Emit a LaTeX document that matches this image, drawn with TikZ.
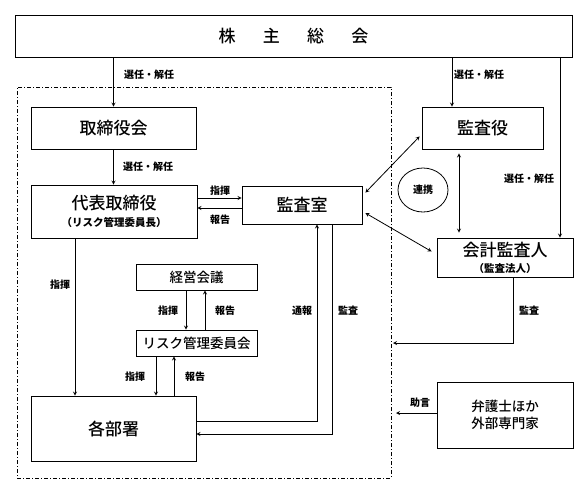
\documentclass[tikz,border=0pt]{standalone}
\usepackage{fontspec}
\setmainfont{Noto Sans CJK JP}
\newfontfamily\medfont{Noto Sans CJK JP Medium}
\usetikzlibrary{shapes.geometric}
\begin{document}
\begin{tikzpicture}[x=1pt,y=-1pt]
\tikzstyle{bigbox} = [draw, line width=0.8pt, inner sep=0pt, align=center, font=\medfont\fontsize{17}{20}\selectfont]
\tikzstyle{midbox} = [draw, line width=0.8pt, inner sep=0pt, align=center, font=\medfont\fontsize{13.5}{17}\selectfont]
\tikzstyle{lbl} = [inner sep=0pt, font=\fontsize{10}{12}\selectfont\bfseries]
\tikzstyle{conn} = [line width=0.8pt]
\useasboundingbox (0,0) rectangle (588,488);
\node[draw, line width=0.8pt, dash pattern=on 4pt off 2pt on 1pt off 2pt, minimum width=374, minimum height=391] (frame) at (204,282.5) {};
\node[bigbox, minimum width=557, minimum height=42] (sokai) at (293.5,36) {株\hspace{1.6em}主\hspace{1.6em}総\hspace{1.6em}会};
\node[bigbox, minimum width=165, minimum height=42] (torishimari) at (113.5,128) {取締役会};
\node[bigbox, minimum width=166, minimum height=53] (daihyo) at (114,211.5) {代表取締役\\[-3pt]{\normalfont\bfseries\fontsize{10.5}{12}\selectfont （リスク管理委員長）}};
\node[bigbox, minimum width=120, minimum height=38] (kansashitsu) at (302,205) {監査室};
\node[midbox, minimum width=121, minimum height=26] (keiei) at (196.5,277) {経営会議};
\node[midbox, minimum width=121, minimum height=26] (risk) at (196.5,343) {リスク管理委員会};
\node[bigbox, minimum width=165, minimum height=65] (kakubusho) at (113.5,428.5) {各部署};
\node[bigbox, minimum width=121, minimum height=42] (kansayaku) at (482.5,128) {監査役};
\node[bigbox, minimum width=136, minimum height=39] (kaikei) at (505,257.5) {会計監査人\\[-4pt]{\normalfont\bfseries\fontsize{10.5}{12}\selectfont （監査法人）}};
\node[midbox, minimum width=136, minimum height=66] (bengoshi) at (505,415) {弁護士ほか\\外部専門家};
\node[draw, ellipse, line width=0.8pt, minimum width=50, minimum height=44, inner sep=0pt, font=\fontsize{10}{12}\selectfont\bfseries] (renkei) at (423,190) {連携};
\coordinate (v75) at (75,0);
\coordinate (v156) at (156,0);
\coordinate (v174) at (174,0);
\coordinate (v186) at (186,0);
\coordinate (v205) at (205,0);
\coordinate (v317) at (317,0);
\coordinate (v332) at (332,0);
\coordinate (v452) at (452,0);
\coordinate (v459) at (459,0);
\coordinate (v513) at (513,0);
\coordinate (v560) at (560,0);
\coordinate (h198) at (0,198);
\coordinate (h208) at (0,208);
\coordinate (h421) at (0,421);
\coordinate (h434) at (0,434);
\coordinate (audit) at (393,343);
\coordinate (advice) at (396,413);
\draw[conn, -stealth] (sokai.south -| torishimari.north) -- (torishimari.north);
\node[lbl] (l1) at (149,75) {選任・解任};
\draw[conn, -stealth] (sokai.south -| v452) -- (kansayaku.north -| v452);
\node[lbl] (l2) at (479,75) {選任・解任};
\draw[conn, -stealth] (sokai.south -| v560) -- (kaikei.north -| v560);
\node[lbl] (l3) at (529,179) {選任・解任};
\draw[conn, -stealth] (torishimari.south) -- (torishimari.south |- daihyo.north);
\node[lbl] (l4) at (148,167) {選任・解任};
\draw[conn, -stealth] (daihyo.east |- h198) -- (kansashitsu.west |- h198);
\draw[conn, -stealth] (kansashitsu.west |- h208) -- (daihyo.east |- h208);
\node[lbl] (l5) at (220,191) {指揮};
\node[lbl] (l6) at (220,220) {報告};
\draw[conn, -stealth] (daihyo.south -| v75) -- (kakubusho.north -| v75);
\node[lbl] (l7) at (60,285) {指揮};
\draw[conn, -stealth] (keiei.south -| v186) -- (risk.north -| v186);
\draw[conn, -stealth] (risk.north -| v205) -- (keiei.south -| v205);
\node[lbl] (l8) at (168,311) {指揮};
\node[lbl] (l9) at (225,311) {報告};
\draw[conn, -stealth] (risk.south -| v156) -- (kakubusho.north -| v156);
\draw[conn, -stealth] (kakubusho.north -| v174) -- (risk.south -| v174);
\node[lbl] (l10) at (135,377) {指揮};
\node[lbl] (l11) at (195,377) {報告};
\draw[conn, -stealth] (kakubusho.east |- h421) -| (kansashitsu.south -| v317);
\draw[conn, -stealth] (kansashitsu.south -| v332) |- (kakubusho.east |- h434);
\node[lbl] (l12) at (302,311) {通報};
\node[lbl] (l13) at (348,311) {監査};
\draw[conn, stealth-stealth] ([xshift=3,yshift=-7]kansashitsu.north east) -- ([xshift=-2,yshift=13]kansayaku.south west);
\draw[conn, stealth-stealth] ([xshift=3,yshift=-8]kansashitsu.east) -- ([xshift=-5,yshift=6]kaikei.west);
\draw[conn, stealth-stealth, shorten <=4pt, shorten >=5pt] (kansayaku.south -| v459) -- (kaikei.north -| v459);
\draw[conn, -stealth] (kaikei.south -| v513) |- (audit);
\node[lbl] (l14) at (529,311) {監査};
\draw[conn, -stealth] (bengoshi.west |- advice) -- (advice);
\node[lbl] (l15) at (420,403) {助言};
\end{tikzpicture}
\end{document}
